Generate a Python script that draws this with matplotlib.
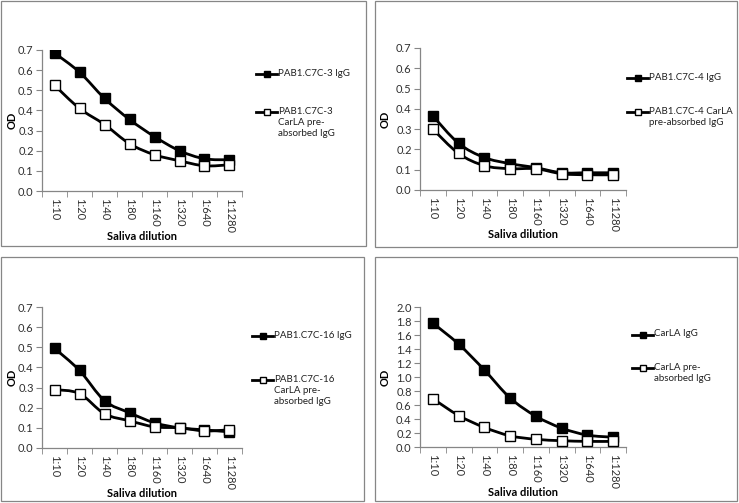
import numpy as np
import matplotlib
matplotlib.use('Agg')
import matplotlib.pyplot as plt
from matplotlib.path import Path
from matplotlib.patches import PathPatch, Rectangle
from matplotlib.lines import Line2D

plt.rcParams['font.family'] = ['Lato', 'DejaVu Sans']

# data
dilutions = ['1:10', '1:20', '1:40', '1:80', '1:160', '1:320', '1:640', '1:1280']

c3_igg = [0.685, 0.59, 0.46, 0.355, 0.27, 0.20, 0.16, 0.155]
c3_pre = [0.525, 0.41, 0.33, 0.235, 0.18, 0.15, 0.125, 0.13]
c4_igg = [0.365, 0.23, 0.16, 0.13, 0.11, 0.085, 0.085, 0.085]
c4_pre = [0.30, 0.18, 0.12, 0.105, 0.105, 0.08, 0.075, 0.075]
c16_igg = [0.495, 0.385, 0.235, 0.175, 0.125, 0.10, 0.09, 0.08]
c16_pre = [0.29, 0.27, 0.17, 0.135, 0.105, 0.10, 0.085, 0.09]
carla_igg = [1.77, 1.47, 1.10, 0.70, 0.44, 0.27, 0.17, 0.14]
carla_pre = [0.69, 0.45, 0.28, 0.16, 0.11, 0.09, 0.08, 0.08]

labels = [
    ('PAB1.C7C-3 IgG', 'PAB1.C7C-3\nCarLA pre-\nabsorbed IgG'),
    ('PAB1.C7C-4 IgG', 'PAB1.C7C-4 CarLA\npre-absorbed IgG'),
    ('PAB1.C7C-16 IgG', 'PAB1.C7C-16\nCarLA pre-\nabsorbed IgG'),
    ('CarLA IgG', 'CarLA pre-\nabsorbed IgG'),
]
series = [(c3_igg, c3_pre), (c4_igg, c4_pre), (c16_igg, c16_pre), (carla_igg, carla_pre)]
ymax = [0.7, 0.7, 0.7, 2.0]
ystep = [0.1, 0.1, 0.1, 0.2]

W, H = 739, 503
fig = plt.figure(figsize=(W / 100, H / 100), dpi=100)

# layout in pixels: axes (left, top, right, bottom), border box, legend anchors
axes_px = [(42, 50, 242, 191), (420, 48, 626, 190), (42, 307, 242, 448), (420, 307, 626, 447)]
border_px = [(1, 1, 366, 246), (375, 1, 737, 247), (1, 257, 364, 501), (375, 257, 737, 501)]
legend_px = [((256, 74), (256, 112)), ((627, 78), (627, 112)),
             ((252, 336), (252, 380)), ((632, 335), (632, 368))]
ylabel_px = [12, 385, 12, 385]
xlabel_py = [236, 235, 493, 493]

gray = '#868686'
fs = 8
fs_leg = 7.0


def fx(x):
    return x / W


def fy(y):
    return 1 - y / H


def smooth_path(vals):
    p = np.column_stack([np.arange(len(vals)), vals]).astype(float)
    pts = np.vstack([p[0], p, p[-1]])
    verts = [p[0]]
    codes = [Path.MOVETO]
    for i in range(len(p) - 1):
        p0, p1, p2, p3 = pts[i], pts[i + 1], pts[i + 2], pts[i + 3]
        verts += [p1 + (p2 - p0) / 6, p2 - (p3 - p1) / 6, p2]
        codes += [Path.CURVE4] * 3
    return Path(verts, codes)


for k in range(4):
    bx0, by0, bx1, by1 = border_px[k]
    fig.patches.append(Rectangle((fx(bx0), fy(by1)), fx(bx1 - bx0), (by1 - by0) / H,
                                 transform=fig.transFigure, fill=False, ec=gray, lw=0.9))

    l, t, r, b = axes_px[k]
    ax = fig.add_axes([fx(l), fy(b), fx(r - l), (b - t) / H])
    x = np.arange(len(dilutions))
    for vals, fc in zip(series[k], ['black', 'white']):
        ax.add_patch(PathPatch(smooth_path(vals), fill=False, ec='black', lw=2, zorder=2))
        ax.plot(x, vals, ls='none', marker='s', ms=6.5, mfc=fc, mec='black', mew=1, zorder=3)

    ax.set_xlim(-0.5, len(dilutions) - 0.5)
    ax.set_ylim(0, ymax[k])
    yt = np.arange(0, ymax[k] + 1e-9, ystep[k])
    ax.set_yticks(yt)
    ax.set_yticklabels([f'{v:.1f}' for v in yt], fontsize=fs, color='#303030')
    ax.set_xticks(x)
    ax.set_xticklabels(dilutions, rotation=270, fontsize=fs, color='#303030')
    ax.set_xticks(np.arange(-0.5, len(dilutions)), minor=True)
    ax.tick_params(axis='x', which='major', length=0, pad=5)
    ax.tick_params(axis='x', which='minor', length=4, color=gray, direction='out')
    ax.tick_params(axis='y', length=4, color=gray, direction='out', pad=2)
    for s in ['top', 'right']:
        ax.spines[s].set_visible(False)
    for s in ['left', 'bottom']:
        ax.spines[s].set_color(gray)
        ax.spines[s].set_linewidth(0.9)
    ax.set_xlabel('Saliva dilution', fontsize=fs, fontweight='bold', va='center')
    ax.xaxis.set_label_coords(0.5, -(xlabel_py[k] - b) / (b - t))
    ax.set_ylabel('OD', fontsize=fs, fontweight='bold', va='center')
    ax.yaxis.set_label_coords(-(l - ylabel_px[k]) / (r - l), 0.5)

    # legend drawn by hand so the marker sits on the first text line
    for (lx, ly), lab, fc in zip(legend_px[k], labels[k], ['black', 'white']):
        fig.add_artist(Line2D([fx(lx), fx(lx + 21)], [fy(ly), fy(ly)], color='black', lw=2,
                              transform=fig.transFigure))
        fig.add_artist(Line2D([fx(lx + 10.5)], [fy(ly)], ls='none', marker='s', ms=5, mfc=fc,
                              mec='black', mew=1, transform=fig.transFigure))
        fig.text(fx(lx + 22), fy(ly - 5.5), lab, fontsize=fs_leg, va='top', ha='left',
                 linespacing=1.35, color='#202020')

fig.savefig('out.png', dpi=100, facecolor='white')
